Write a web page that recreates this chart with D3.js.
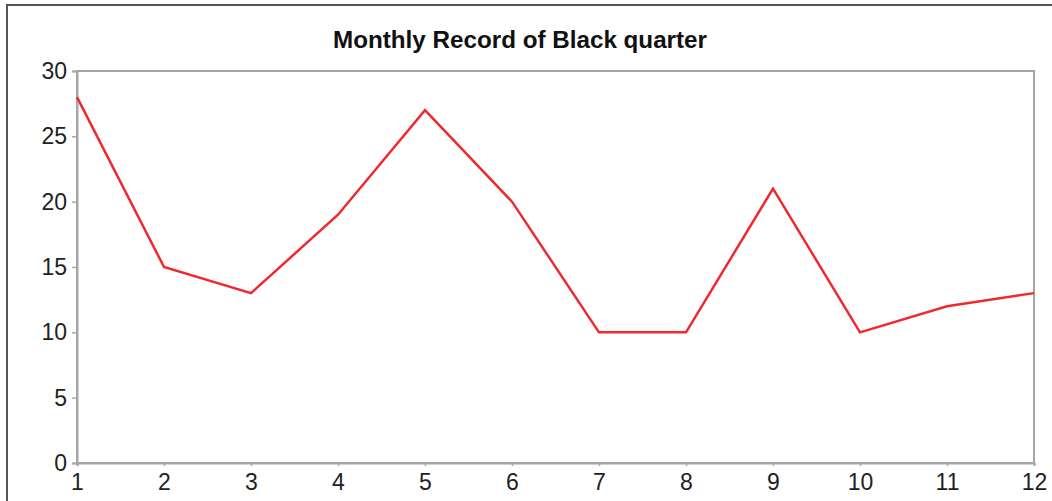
<!DOCTYPE html>
<html>
<head>
<meta charset="utf-8">
<script src="https://cdn.jsdelivr.net/npm/d3@7"></script>
<style>
  body { margin: 0; background: #fff; }
  svg { display: block; }
</style>
</head>
<body>
<svg id="chart"></svg>
<script>
// monthly record values
let months = [1, 2, 3, 4, 5, 6, 7, 8, 9, 10, 11, 12];
let cases = [28, 15, 13, 19, 27, 20, 10, 10, 21, 10, 12, 13];
let yTicks = [0, 5, 10, 15, 20, 25, 30];

let width = 1052;
let height = 501;
let margin = { top: 71, right: 18, bottom: 38, left: 77 };

let svg = d3.select('#chart')
  .attr('width', width)
  .attr('height', height);

// outer frame (only left and top visible)
svg.append('path')
  .attr('d', `M7,${height} V5 H${width}`)
  .attr('fill', 'none')
  .attr('stroke', '#555')
  .attr('stroke-width', 2);

let x = d3.scaleLinear()
  .domain([1, 12])
  .range([margin.left, width - margin.right]);

let y = d3.scaleLinear()
  .domain([0, 30])
  .range([height - margin.bottom, margin.top]);

// plot box
svg.append('rect')
  .attr('x', x(1))
  .attr('y', y(30))
  .attr('width', x(12) - x(1))
  .attr('height', y(0) - y(30))
  .attr('fill', 'none')
  .attr('stroke', '#a6a6a6')
  .attr('stroke-width', 2);

let yAxis = svg.append('g')
  .attr('transform', `translate(${x(1)},0)`)
  .call(d3.axisLeft(y).tickValues(yTicks).tickSize(5).tickPadding(5));

let xAxis = svg.append('g')
  .attr('transform', `translate(0,${y(0)})`)
  .call(d3.axisBottom(x).tickValues(months).tickSize(3).tickPadding(8).tickFormat(d3.format('d')));

[yAxis, xAxis].forEach(g => {
  g.select('.domain').attr('stroke', '#a6a6a6').attr('stroke-width', 2);
  g.selectAll('.tick line').attr('stroke', '#a6a6a6').attr('stroke-width', 1.5);
  g.selectAll('.tick text')
    .attr('fill', '#222')
    .style('font-family', 'Liberation Sans, Arial, sans-serif')
    .style('font-size', '23px');
});

let line = d3.line()
  .x((d, i) => x(months[i]))
  .y(d => y(d));

svg.append('path')
  .datum(cases)
  .attr('d', line)
  .attr('fill', 'none')
  .attr('stroke', '#ee2a2f')
  .attr('stroke-width', 2.5)
  .attr('stroke-linejoin', 'miter');

svg.append('text')
  .attr('x', 520)
  .attr('y', 48)
  .attr('text-anchor', 'middle')
  .attr('textLength', 374)
  .attr('lengthAdjust', 'spacingAndGlyphs')
  .style('font-family', 'Liberation Sans, Arial, sans-serif')
  .style('font-weight', 'bold')
  .style('font-size', '23px')
  .attr('fill', '#111')
  .text('Monthly Record of Black quarter');
</script>
</body>
</html>
